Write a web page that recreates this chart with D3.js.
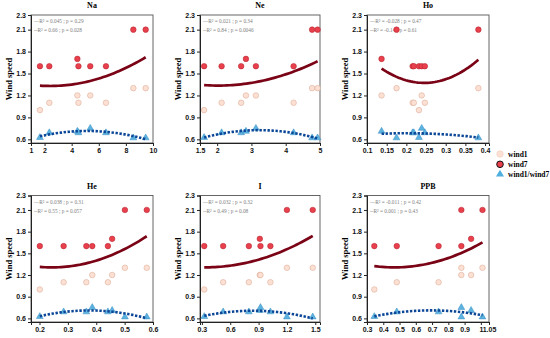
<!DOCTYPE html>
<html>
<head>
<meta charset="utf-8">
<script src="https://cdn.jsdelivr.net/npm/d3@7"></script>
<style>
  body { margin: 0; background: #fff; }
  svg { display: block; font-family: "Liberation Serif", "Times New Roman", serif; }
  .tick text { font-weight: bold; font-size: 7px; fill: #111; }
  .title { font-weight: bold; font-size: 8px; }
  .ylab { font-weight: bold; font-size: 8.5px; }
  .stat { font-size: 5.3px; fill: #808080; }
  .legendText { font-weight: bold; font-size: 7.5px; }
</style>
</head>
<body>
<div id="chart"></div>
<script>
// panel names and the stats printed in each corner
var panelNames = ["Na", "Ne", "Ho", "He", "I", "PPB"];
var statLine1 = ["\u2014R\u00b2 = 0.045 ; p = 0.29", "\u2014R\u00b2 = 0.021 ; p = 0.34", "\u2014R\u00b2 = -0.028 ; p = 0.47",
                 "\u2014R\u00b2 = 0.038 ; p = 0.31", "\u2014R\u00b2 = 0.032 ; p = 0.32", "\u2014R\u00b2 = -0.011 ; p = 0.42"];
var statLine2 = ["--R\u00b2 = 0.66 ; p = 0.028", "--R\u00b2 = 0.84 ; p = 0.0046", "--R\u00b2 = -0.14 ; p = 0.61",
                 "--R\u00b2 = 0.55 ; p = 0.057", "--R\u00b2 = 0.49 ; p = 0.08", "--R\u00b2 = 0.001 ; p = 0.43"];

// x values (element concentration) per panel
var naX  = [1.66, 2.35, 4.42, 4.5, 5.37, 6.53, 8.55, 9.46];
var neX  = [1.62, 2.13, 2.7, 2.84, 3.13, 4.23, 4.77, 4.93];
var hoX  = [0.137, 0.175, 0.216, 0.219, 0.232, 0.239, 0.247, 0.383];
var heX  = [0.201, 0.285, 0.365, 0.386, 0.441, 0.456, 0.501, 0.578];
var iX   = [0.325, 0.525, 0.797, 0.913, 0.92, 1.025, 1.2, 1.473];
var ppbX = [0.345, 0.483, 0.74, 0.88, 0.88, 0.94, 1.01];

// wind7 values
var naWind7  = [1.6, 1.6, 1.7, 1.6, 1.6, 1.6, 2.1, 2.1];
var neWind7  = [1.6, 1.6, 1.6, 1.7, 1.6, 1.6, 2.1, 2.1];
var hoWind7  = [1.7, 2.1, 1.6, 1.6, 1.6, 1.6, 1.6, 2.1];
var heWind7  = [1.6, 1.6, 1.6, 1.6, 1.6, 1.7, 2.1, 2.1];
var iWind7   = [1.6, 1.6, 1.6, 1.7, 1.6, 1.6, 2.1, 2.1];
var ppbWind7 = [1.6, 1.6, 1.6, 1.6, 2.1, 1.7, 2.1];

// wind1 values
var naWind1  = [1.0, 1.1, 1.2, 1.1, 1.2, 1.1, 1.3, 1.3];
var neWind1  = [1.0, 1.1, 1.1, 1.2, 1.2, 1.1, 1.3, 1.3];
var hoWind1  = [1.2, 1.3, 1.1, 1.1, 1.0, 1.2, 1.1, 1.3];
var heWind1  = [1.0, 1.1, 1.1, 1.2, 1.1, 1.2, 1.3, 1.3];
var iWind1   = [1.0, 1.1, 1.1, 1.2, 1.2, 1.1, 1.3, 1.3];
var ppbWind1 = [1.0, 1.1, 1.1, 1.2, 1.3, 1.2, 1.3];

// wind1/wind7 values
var naRatio  = [0.625, 0.69, 0.71, 0.69, 0.75, 0.69, 0.62, 0.62];
var neRatio  = [0.625, 0.69, 0.69, 0.71, 0.75, 0.69, 0.62, 0.62];
var hoRatio  = [0.71, 0.62, 0.69, 0.69, 0.625, 0.75, 0.69, 0.62];
var heRatio  = [0.625, 0.69, 0.69, 0.75, 0.69, 0.71, 0.62, 0.62];
var iRatio   = [0.625, 0.69, 0.69, 0.71, 0.75, 0.69, 0.62, 0.62];
var ppbRatio = [0.625, 0.69, 0.69, 0.75, 0.62, 0.71, 0.62];

// axis domains and ticks
var xDomains = [[1, 10], [1.5, 5], [0.1, 0.41], [0.17, 0.6], [0.28, 1.55], [0.3, 1.05]];
var xTickVals = [[1, 2, 4, 6, 8, 10], [1.5, 2, 3, 4, 5], [0.1, 0.15, 0.2, 0.25, 0.3, 0.35, 0.4],
                 [0.2, 0.3, 0.4, 0.5, 0.6], [0.3, 0.6, 0.9, 1.2, 1.5], [0.3, 0.4, 0.5, 0.6, 0.7, 0.8, 0.9, 1, 1.05]];
var yTickVals = [0.6, 0.9, 1.2, 1.5, 1.8, 2.1, 2.3];
var yDomain = [0.55, 2.3];

var legendLabels = ["wind1", "wind7", "wind1/wind7"];

var width = 550, height = 338;
var colX = [[31, 153], [200, 320], [367, 489]];
var rowY = [[15, 143], [195.5, 322]];

var svg = d3.select("#chart").append("svg")
  .attr("width", width)
  .attr("height", height);

var allX = [naX, neX, hoX, heX, iX, ppbX];
var allW7 = [naWind7, neWind7, hoWind7, heWind7, iWind7, ppbWind7];
var allW1 = [naWind1, neWind1, hoWind1, heWind1, iWind1, ppbWind1];
var allR = [naRatio, neRatio, hoRatio, heRatio, iRatio, ppbRatio];

// least squares quadratic y = a + b x + c x^2
function quadFit(xs, ys) {
  var s = [0, 0, 0, 0, 0], t = [0, 0, 0];
  xs.forEach(function(x, i) {
    var p = 1;
    for (var k = 0; k < 5; k++) { s[k] += p; if (k < 3) t[k] += p * ys[i]; p *= x; }
  });
  var m = [[s[0], s[1], s[2], t[0]], [s[1], s[2], s[3], t[1]], [s[2], s[3], s[4], t[2]]];
  for (var c = 0; c < 3; c++) {
    for (var r = c + 1; r < 3; r++) {
      var f = m[r][c] / m[c][c];
      for (var j = c; j < 4; j++) m[r][j] -= f * m[c][j];
    }
  }
  var co = [0, 0, 0];
  for (var r2 = 2; r2 >= 0; r2--) {
    var v = m[r2][3];
    for (var j2 = r2 + 1; j2 < 3; j2++) v -= m[r2][j2] * co[j2];
    co[r2] = v / m[r2][r2];
  }
  return function(x) { return co[0] + co[1] * x + co[2] * x * x; };
}

var triangle = d3.symbol().type(d3.symbolTriangle).size(20);

panelNames.forEach(function(name, idx) {
  var col = idx % 3, row = Math.floor(idx / 3);
  var x = d3.scaleLinear().domain(xDomains[idx]).range(colX[col]);
  var y = d3.scaleLinear().domain(yDomain).range([rowY[row][1], rowY[row][0]]);
  var g = svg.append("g");

  var pts = allX[idx].map(function(v, i) {
    return { x: v, w1: allW1[idx][i], w7: allW7[idx][i], r: allR[idx][i] };
  });

  // frame
  g.append("rect")
    .attr("x", colX[col][0]).attr("y", rowY[row][0])
    .attr("width", colX[col][1] - colX[col][0])
    .attr("height", rowY[row][1] - rowY[row][0])
    .attr("fill", "none").attr("stroke", "#555").attr("stroke-width", 0.9);

  var yAxis = g.append("g")
    .attr("transform", "translate(" + colX[col][0] + ",0)")
    .call(d3.axisLeft(y).tickValues(yTickVals).tickSize(3).tickPadding(2)
      .tickFormat(function(d) { return d.toFixed(1); }));
  var xAxis = g.append("g")
    .attr("transform", "translate(0," + rowY[row][1] + ")")
    .call(d3.axisBottom(x).tickValues(xTickVals[idx]).tickSize(3).tickPadding(2)
      .tickFormat(function(d) { return String(d); }));
  [xAxis, yAxis].forEach(function(a) {
    a.select(".domain").attr("stroke", "#222");
    a.selectAll(".tick line").attr("stroke", "#222");
  });

  g.append("text").attr("class", "title")
    .attr("x", (colX[col][0] + colX[col][1]) / 2)
    .attr("y", rowY[row][0] - 7)
    .attr("text-anchor", "middle")
    .text(name);

  g.append("text").attr("class", "ylab")
    .attr("transform", "translate(" + (colX[col][0] - 19) + "," + ((rowY[row][0] + rowY[row][1]) / 2) + ") rotate(-90)")
    .attr("text-anchor", "middle")
    .text("Wind speed");

  g.append("text").attr("class", "stat")
    .attr("x", colX[col][0] + 3).attr("y", rowY[row][0] + 8)
    .text(statLine1[idx]);
  g.append("text").attr("class", "stat")
    .attr("x", colX[col][0] + 3).attr("y", rowY[row][0] + 17)
    .text(statLine2[idx]);

  // points
  g.selectAll(".w1").data(pts).enter().append("circle")
    .attr("cx", function(d) { return x(d.x); })
    .attr("cy", function(d) { return y(d.w1); })
    .attr("r", 2.8)
    .attr("fill", "#fbe0d3").attr("stroke", "#d9a58f").attr("stroke-width", 0.5);
  g.selectAll(".w7").data(pts).enter().append("circle")
    .attr("cx", function(d) { return x(d.x); })
    .attr("cy", function(d) { return y(d.w7); })
    .attr("r", 2.8)
    .attr("fill", "#e8404c").attr("stroke", "#b0202c").attr("stroke-width", 0.5);
  g.selectAll(".rt").data(pts).enter().append("path")
    .attr("d", triangle)
    .attr("transform", function(d) { return "translate(" + x(d.x) + "," + y(d.r) + ")"; })
    .attr("fill", "#5db3e0").attr("stroke", "#3b8fc2").attr("stroke-width", 0.5);

  // fitted curves
  var xs = allX[idx];
  var ext = d3.extent(xs);
  var samples = d3.range(0, 41).map(function(k) { return ext[0] + (ext[1] - ext[0]) * k / 40; });
  var fitAll = quadFit(xs.concat(xs), allW1[idx].concat(allW7[idx]));
  var fitR = quadFit(xs, allR[idx]);
  var line = d3.line().curve(d3.curveLinear);

  g.append("path")
    .attr("d", line(samples.map(function(v) { return [x(v), y(fitAll(v))]; })))
    .attr("fill", "none").attr("stroke", "#7a0316").attr("stroke-width", 2.7);
  g.append("path")
    .attr("d", line(samples.map(function(v) { return [x(v), y(fitR(v))]; })))
    .attr("fill", "none").attr("stroke", "#0b4697").attr("stroke-width", 2.6)
    .attr("stroke-dasharray", "2.4,1.6");
});

// legend
var legendY = [154, 164.3, 174.3];
var lg = svg.append("g");
lg.append("circle").attr("cx", 500).attr("cy", legendY[0]).attr("r", 3.3)
  .attr("fill", "#fbe0d3").attr("stroke", "#f0cbbb").attr("stroke-width", 0.5);
lg.append("circle").attr("cx", 500).attr("cy", legendY[1]).attr("r", 3.3)
  .attr("fill", "#e8404c").attr("stroke", "#111").attr("stroke-width", 1);
lg.append("path").attr("d", d3.symbol().type(d3.symbolTriangle).size(28))
  .attr("transform", "translate(500," + legendY[2] + ")")
  .attr("fill", "#4fb0e0");
legendLabels.forEach(function(t, i) {
  lg.append("text").attr("class", "legendText")
    .attr("x", 508).attr("y", legendY[i]).attr("dy", "0.35em")
    .text(t);
});
</script>
</body>
</html>
